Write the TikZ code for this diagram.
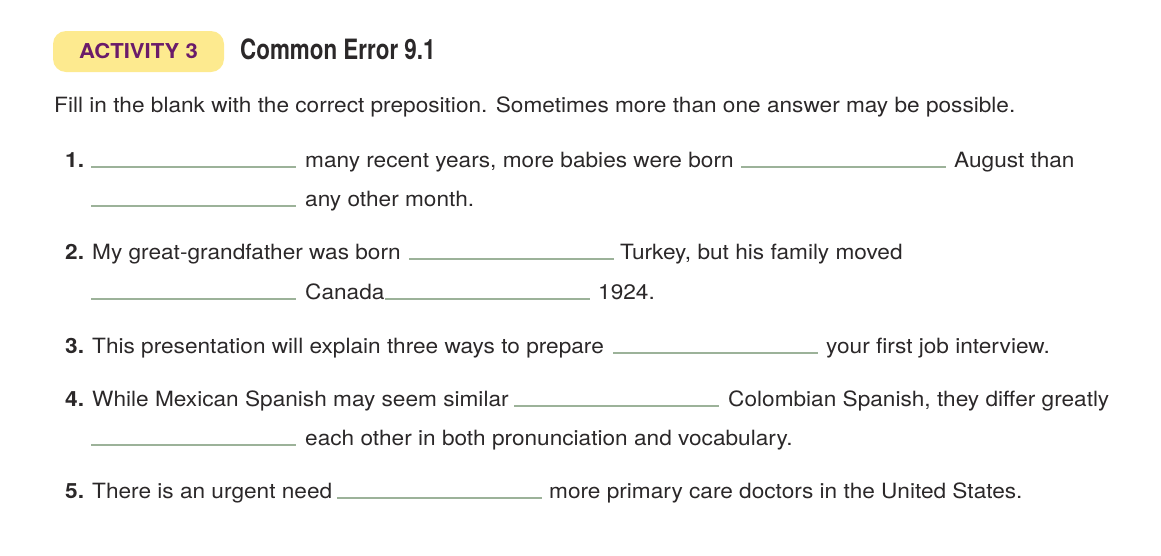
\documentclass[tikz,border=0pt]{standalone}
\usepackage{fontspec}
\setmainfont[FakeStretch=1.078]{TeX Gyre Heros}
\newfontfamily\titlefont{TeX Gyre Heros}
\definecolor{pillyellow}{HTML}{FDEA8F}
\definecolor{actpurple}{HTML}{6A1B6A}
\definecolor{ink}{HTML}{2B2829}
\definecolor{rulegreen}{HTML}{9CB299}
\begin{document}
\begin{tikzpicture}[
        x=1pt, y=-1pt, % coordinates in pixels, y downwards
        txt/.style={anchor=base west, inner sep=0pt, text=ink, font=\fontsize{21}{24}\selectfont}, % body text
        num/.style={txt, font=\fontsize{21}{24}\selectfont\bfseries}, % item numbers
        badge/.style={fill=pillyellow, rounded corners=13pt, minimum width=171pt, minimum height=41pt,
            inner sep=0pt, text=actpurple, font=\fontsize{20.5}{24}\selectfont\bfseries},
        blank/.style={draw=rulegreen, line width=1.3pt}, % answer line
    ]
    \useasboundingbox (0,0) rectangle (1161,555);

    \node[badge] (act) at (138.5,51.5) {ACTIVITY 3};
    \node[txt, font=\titlefont\fontsize{28}{32}\selectfont\bfseries] (title) at (240,59) {\scalebox{0.8}[1]{Common Error 9.1}};

    \node[txt] (task) at (54,112) {Fill in the blank with the correct preposition. Sometimes more than one answer may be possible.};

    \node[num] (n1) at (65,167) {1.};
    \node[txt] (t1a) at (305,167) {many recent years, more babies were born};
    \node[txt] (t1b) at (954,167) {August than};
    \node[txt] (t1c) at (305,206) {any other month.};

    \node[num] (n2) at (65,259) {2.};
    \node[txt] (t2a) at (92,259) {My great-grandfather was born};
    \node[txt] (t2b) at (620,259) {Turkey, but his family moved};
    \node[txt] (t2c) at (305,299) {Canada};
    \node[txt] (t2d) at (598,299) {1924.};

    \node[num] (n3) at (65,353) {3.};
    \node[txt] (t3a) at (92,353) {This presentation will explain three ways to prepare};
    \node[txt] (t3b) at (826,353) {your first job interview.};

    \node[num] (n4) at (65,406) {4.};
    \node[txt] (t4a) at (92,406) {While Mexican Spanish may seem similar};
    \node[txt] (t4b) at (728,406) {Colombian Spanish, they differ greatly};
    \node[txt] (t4c) at (305,445) {each other in both pronunciation and vocabulary.};

    \node[num] (n5) at (65,498) {5.};
    \node[txt] (t5a) at (92,498) {There is an urgent need};
    \node[txt] (t5b) at (549,498) {more primary care doctors in the United States.};

    % answer lines
    \foreach \x/\y in {91/167, 741/167, 91/206, 409/259, 91/299, 385/299, 613/353, 514/406, 91/445, 337/498}
        \draw[blank] (\x,\y) -- ++(205,0);
\end{tikzpicture}
\end{document}
